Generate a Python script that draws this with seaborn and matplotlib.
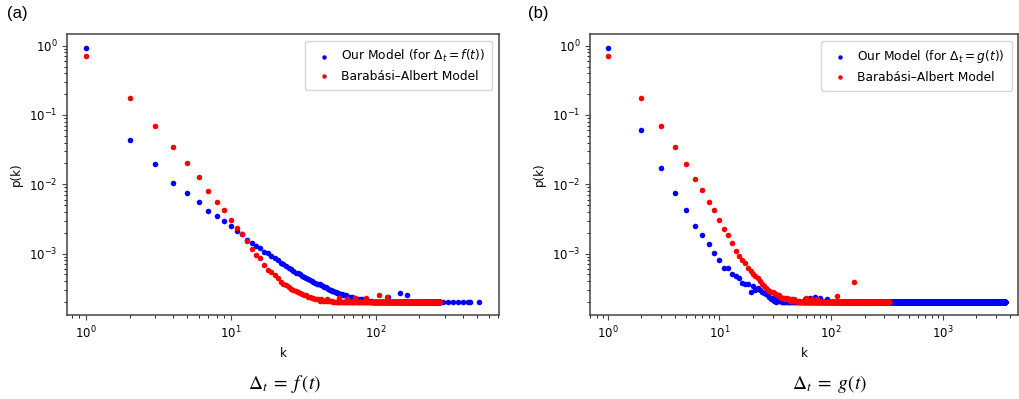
import matplotlib
matplotlib.use('Agg')

import numpy as np
import seaborn as sns
import matplotlib.pyplot as plt

# ---- panel (a): degree distribution, Delta_t = f(t) ----
a_blue_k = list(range(1, 61)) + [62, 64, 66, 68, 70, 72, 75, 78, 80, 84, 88, 92, 122, 147, 164]
a_blue_p = [0.93, 0.0436, 0.0194, 0.0105, 0.0076, 0.0056, 0.0041, 0.0035, 0.0030, 0.00248,
            0.00212, 0.0019, 0.00158, 0.00144, 0.0013, 0.00122, 0.00107, 0.00101, 0.00093, 0.00086,
            0.0008, 0.00074, 0.0007, 0.00066, 0.00063, 0.0006, 0.00056, 0.00053, 0.00052, 0.0005,
            0.00047, 0.00046, 0.00044, 0.00043, 0.00042, 0.0004, 0.00039, 0.00038, 0.00037, 0.00037,
            0.00036, 0.00035, 0.00034, 0.00033, 0.00033, 0.00032, 0.00031, 0.0003, 0.0003, 0.00029,
            0.00029, 0.00028, 0.00028, 0.00027, 0.00027, 0.00026, 0.00026, 0.00026, 0.00025, 0.00025,
            0.00025, 0.00024, 0.00024, 0.00024, 0.00023, 0.00023, 0.00022, 0.00022, 0.00022, 0.00021,
            0.00021, 0.00021, 0.00024, 0.000267, 0.00025]
a_blue_floor = (93, 280)
a_blue_tail_k = [292, 316, 342, 370, 401, 434, 445, 513]

a_red_k = list(range(1, 51)) + [56, 63, 72, 85, 105, 120]
a_red_p = [0.72, 0.174, 0.070, 0.034, 0.0203, 0.0127, 0.0079, 0.0056, 0.0042, 0.00306,
           0.00237, 0.0019, 0.00152, 0.00117, 0.00095, 0.00085, 0.00068, 0.00058, 0.00055, 0.00049,
           0.00045, 0.00039, 0.00037, 0.00035, 0.00033, 0.00031, 0.0003, 0.00029, 0.00028, 0.00027,
           0.00026, 0.00025, 0.00025, 0.00024, 0.00024, 0.00023, 0.00023, 0.00022, 0.00022, 0.00022,
           0.00021, 0.00022, 0.00021, 0.00021, 0.00021, 0.00022, 0.00021, 0.00021, 0.00021, 0.00021,
           0.00023, 0.00022, 0.00023, 0.00023, 0.00025, 0.00024]
a_red_floor = (51, 276)

# ---- panel (b): degree distribution, Delta_t = g(t) ----
b_blue_k = list(range(1, 36)) + [40, 45, 52, 58, 65, 72, 80, 92]
b_blue_p = [0.93, 0.0614, 0.017, 0.0076, 0.0042, 0.00248, 0.00184, 0.00137, 0.00101, 0.00082,
            0.00063, 0.00063, 0.0005, 0.00047, 0.00045, 0.00038, 0.00037, 0.00037, 0.00028, 0.00034,
            0.0003, 0.00032, 0.0003, 0.00028, 0.00027, 0.00026, 0.00025, 0.00024, 0.00022, 0.00023,
            0.00021, 0.0002, 0.00022, 0.00021, 0.00021,
            0.00021, 0.00022, 0.00021, 0.00022, 0.00023, 0.00024, 0.00023, 0.00022]
b_blue_floor = (36, 3600)

b_red_k = list(range(1, 51)) + [60, 68, 75, 114, 161]
b_red_p = [0.72, 0.174, 0.070, 0.034, 0.0194, 0.0120, 0.0082, 0.0056, 0.0042, 0.0031,
           0.00226, 0.00184, 0.0014, 0.0011, 0.00093, 0.0008, 0.00072, 0.00063, 0.00056, 0.0005,
           0.00047, 0.00044, 0.0004, 0.00037, 0.00034, 0.00032, 0.0003, 0.00029, 0.00028, 0.00028,
           0.00027, 0.00026, 0.00025, 0.00025, 0.00024, 0.00023, 0.00023, 0.00023, 0.00022, 0.00023,
           0.00022, 0.00022, 0.00021, 0.00022, 0.00021, 0.00021, 0.00022, 0.00021, 0.00021, 0.00021,
           0.00023, 0.00022, 0.00022, 0.000246, 0.00039]
b_red_floor = (51, 332)

p_floor = 2e-4   # 1/N, N = 5000


def series(k_list, p_list, floor=None, tail=None):
    k = list(k_list)
    p = list(p_list)
    if floor is not None:
        fk = np.arange(floor[0], floor[1] + 1)
        k += list(fk)
        p += [p_floor] * len(fk)
    if tail is not None:
        k += list(tail)
        p += [p_floor] * len(tail)
    return np.array(k, dtype=float), np.array(p)


fig = plt.figure(figsize=(10.2, 3.99), dpi=100)
ax_a = fig.add_axes([67 / 1020, 84 / 399, 432 / 1020, 281 / 399])
ax_b = fig.add_axes([590 / 1020, 84 / 399, 428.5 / 1020, 281 / 399])

panels = [
    (ax_a, series(a_blue_k, a_blue_p, a_blue_floor, a_blue_tail_k), series(a_red_k, a_red_p, a_red_floor),
     r'Our Model (for $\Delta_t = f(t)$)', (0.74, 708)),
    (ax_b, series(b_blue_k, b_blue_p, b_blue_floor), series(b_red_k, b_red_p, b_red_floor),
     r'Our Model (for $\Delta_t = g(t)$)', (0.695, 4760)),
]

for ax, (bk, bp), (rk, rp), blue_label, xlim in panels:
    sns.scatterplot(x=bk, y=bp, color='#0000ff', s=16, linewidth=0, ax=ax, label=blue_label)
    sns.scatterplot(x=rk, y=rp, color='#ff0000', s=16, linewidth=0, ax=ax, label='Barabási–Albert Model')
    ax.set_xscale('log')
    ax.set_yscale('log')
    ax.set_xlim(*xlim)
    ax.set_ylim(1.30e-4, 1.475)
    ax.set_xlabel('k', fontsize=8.5)
    ax.set_ylabel('p(k)', fontsize=8.5)
    ax.tick_params(labelsize=8.5, color='#444444')
    for sp in ax.spines.values():
        sp.set_color('#444444')
        sp.set_linewidth(1.1)
    ax.legend(loc='upper right', fontsize=8.8, markerscale=0.8, handlelength=1.9,
              handletextpad=0.4, borderpad=0.6, labelspacing=0.45, framealpha=0.8,
              borderaxespad=0.55)

fig.text(0.007, 0.985, '(a)', fontsize=12, family='Liberation Sans', va='top', ha='left')
fig.text(0.518, 0.985, '(b)', fontsize=12, family='Liberation Sans', va='top', ha='left')
fig.text(285 / 1020, 1 - 384 / 399, r'$\Delta_t\;=\;f\,(t)$', fontsize=14,
         math_fontfamily='stix', ha='center', va='center')
fig.text(830 / 1020, 1 - 384 / 399, r'$\Delta_t\;=\;g(t)$', fontsize=14,
         math_fontfamily='stix', ha='center', va='center')

fig.savefig('out.png', dpi=100)
